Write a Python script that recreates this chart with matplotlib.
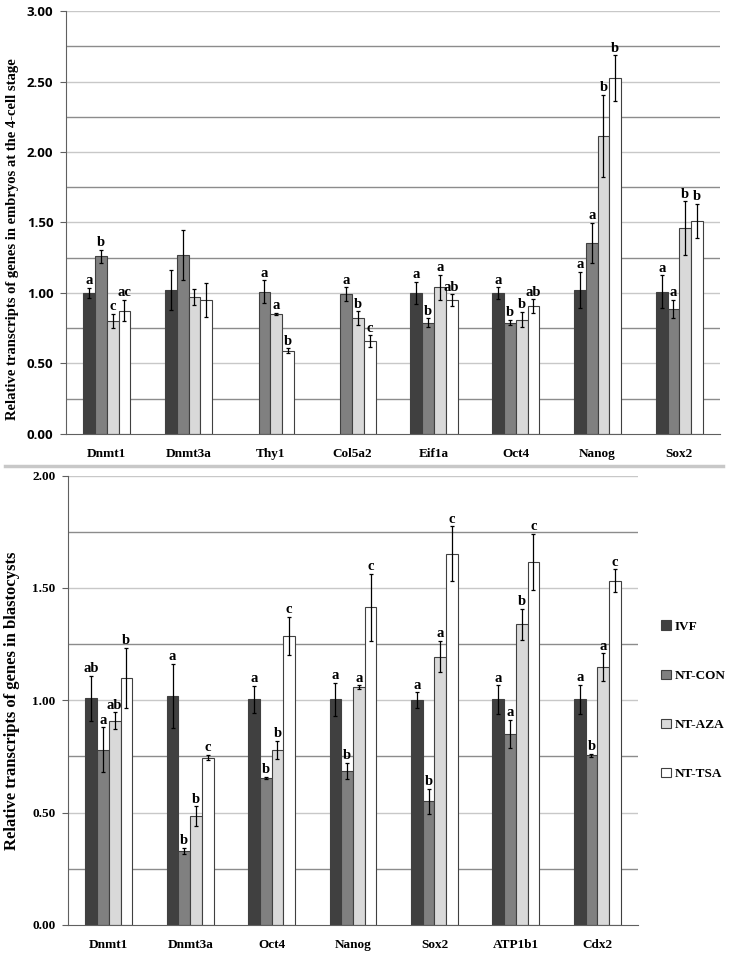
import matplotlib.pyplot as plt
import numpy as np

# groups / series
series = ['IVF', 'NT-CON', 'NT-AZA', 'NT-TSA']
colors = ['#404040', '#808080', '#d9d9d9', '#ffffff']

# top panel: 4-cell stage
genes_top = ['Dnmt1', 'Dnmt3a', 'Thy1', 'Col5a2', 'Eif1a', 'Oct4', 'Nanog', 'Sox2']
ivf_top = [1.00, 1.02, np.nan, np.nan, 1.00, 1.00, 1.02, 1.01]
con_top = [1.26, 1.27, 1.01, 0.99, 0.79, 0.79, 1.355, 0.885]
aza_top = [0.80, 0.97, 0.85, 0.82, 1.04, 0.81, 2.115, 1.46]
tsa_top = [0.875, 0.95, 0.59, 0.66, 0.95, 0.905, 2.525, 1.51]
ivf_top_err = [0.035, 0.14, np.nan, np.nan, 0.08, 0.04, 0.13, 0.115]
con_top_err = [0.045, 0.175, 0.08, 0.05, 0.03, 0.02, 0.14, 0.065]
aza_top_err = [0.05, 0.057, 0.007, 0.05, 0.087, 0.055, 0.29, 0.19]
tsa_top_err = [0.074, 0.12, 0.017, 0.04, 0.04, 0.05, 0.16, 0.12]
ivf_top_lab = ['a', '', '', '', 'a', 'a', 'a', 'a']
con_top_lab = ['b', '', 'a', 'a', 'b', 'b', 'a', 'a']
aza_top_lab = ['c', '', 'a', 'b', 'a', 'b', 'b', 'b']
tsa_top_lab = ['ac', '', 'b', 'c', 'ab', 'ab', 'b', 'b']

# bottom panel: blastocysts
genes_bot = ['Dnmt1', 'Dnmt3a', 'Oct4', 'Nanog', 'Sox2', 'ATP1b1', 'Cdx2']
ivf_bot = [1.01, 1.02, 1.004, 1.004, 1.00, 1.004, 1.004]
con_bot = [0.78, 0.33, 0.653, 0.685, 0.55, 0.85, 0.755]
aza_bot = [0.91, 0.485, 0.78, 1.058, 1.195, 1.338, 1.147]
tsa_bot = [1.10, 0.745, 1.286, 1.414, 1.653, 1.617, 1.533]
ivf_bot_err = [0.10, 0.142, 0.06, 0.073, 0.036, 0.063, 0.064]
con_bot_err = [0.10, 0.012, 0.005, 0.037, 0.055, 0.063, 0.008]
aza_bot_err = [0.037, 0.043, 0.04, 0.008, 0.07, 0.07, 0.062]
tsa_bot_err = [0.134, 0.012, 0.085, 0.148, 0.122, 0.125, 0.05]
ivf_bot_lab = ['ab', 'a', 'a', 'a', 'a', 'a', 'a']
con_bot_lab = ['a', 'b', 'b', 'b', 'b', 'a', 'b']
aza_bot_lab = ['ab', 'b', 'b', 'a', 'a', 'b', 'a']
tsa_bot_lab = ['b', 'c', 'c', 'c', 'c', 'c', 'c']

serif = 'Liberation Serif'
sans = 'Open Sans'


def draw_panel(ax, genes, vals, errs, labs, ymax, ylabel, ylab_size, tick_font, tick_size):
    x = np.arange(len(genes))
    w = 0.144
    for k in range(4):
        v = np.array(vals[k], dtype=float)
        e = np.array(errs[k], dtype=float)
        xs = x + (k - 1.5) * w
        ok = ~np.isnan(v)
        ax.bar(xs[ok], v[ok], w, color=colors[k], edgecolor='#404040', linewidth=0.8, zorder=2,
               label=series[k])
        ax.errorbar(xs[ok], v[ok], yerr=e[ok], fmt='none', ecolor='black', elinewidth=0.9,
                    capsize=1.5, capthick=0.9, zorder=3)
        for xi, vi, ei, li in zip(xs, v, e, labs[k]):
            if li and not np.isnan(vi):
                ax.annotate(li, (xi, vi + ei), xytext=(0, 0.5), textcoords='offset points',
                            ha='center', va='bottom', fontsize=10.5, fontweight='bold',
                            family=serif)
    ax.set_xlim(-0.5, len(genes) - 0.5)
    ax.set_ylim(0, ymax)
    ticks = np.arange(0, ymax + 0.01, 0.5)
    ax.set_yticks(ticks)
    ax.set_yticklabels(['%.2f' % t for t in ticks], fontsize=tick_size, fontweight='bold',
                       family=tick_font)
    for g in np.arange(0.25, ymax + 0.01, 0.25):
        col = '#c8c8c8' if abs(g * 2 - round(g * 2)) < 1e-6 else '#8c8c8c'
        ax.axhline(g, color=col, linewidth=1.0, zorder=1)
    ax.set_xticks(x)
    ax.set_xticklabels(genes, fontsize=9.5, fontweight='bold', family=serif)
    ax.tick_params(axis='x', length=0, pad=10)
    ax.tick_params(axis='y', length=4, width=0.8, color='#606060', pad=5)
    for s in ['top', 'right']:
        ax.spines[s].set_visible(False)
    ax.spines['left'].set_color('#606060')
    ax.spines['bottom'].set_color('#606060')
    ax.set_ylabel(ylabel, fontsize=ylab_size, fontweight='bold', family=serif)


fig = plt.figure(figsize=(7.32, 9.6), dpi=100)

ax1 = fig.add_axes([0.090, 0.548, 0.894, 0.4405])
draw_panel(ax1, genes_top,
           [ivf_top, con_top, aza_top, tsa_top],
           [ivf_top_err, con_top_err, aza_top_err, tsa_top_err],
           [ivf_top_lab, con_top_lab, aza_top_lab, tsa_top_lab],
           3.0, 'Relative transcripts of genes in embryos at the 4-cell stage', 10.5, sans, 9.5)
ax1.yaxis.set_label_coords(-0.072, 0.46)

ax2 = fig.add_axes([0.093, 0.0365, 0.7786, 0.468])
draw_panel(ax2, genes_bot,
           [ivf_bot, con_bot, aza_bot, tsa_bot],
           [ivf_bot_err, con_bot_err, aza_bot_err, tsa_bot_err],
           [ivf_bot_lab, con_bot_lab, aza_bot_lab, tsa_bot_lab],
           2.0, 'Relative transcripts of genes in blastocysts', 12, serif, 9.5)
ax2.yaxis.set_label_coords(-0.084, 0.5)

# separator line between panels
fig.add_artist(plt.Line2D([0.007, 0.988], [0.5146, 0.5146], color='#c8c8c8', linewidth=2.5))

leg = ax2.legend(loc='center left', bbox_to_anchor=(1.02, 0.5), frameon=False,
                 prop={'family': serif, 'weight': 'bold', 'size': 9.5},
                 handlelength=0.7, handleheight=0.7, handletextpad=0.3, labelspacing=2.8)

fig.savefig('out.png', dpi=100)
